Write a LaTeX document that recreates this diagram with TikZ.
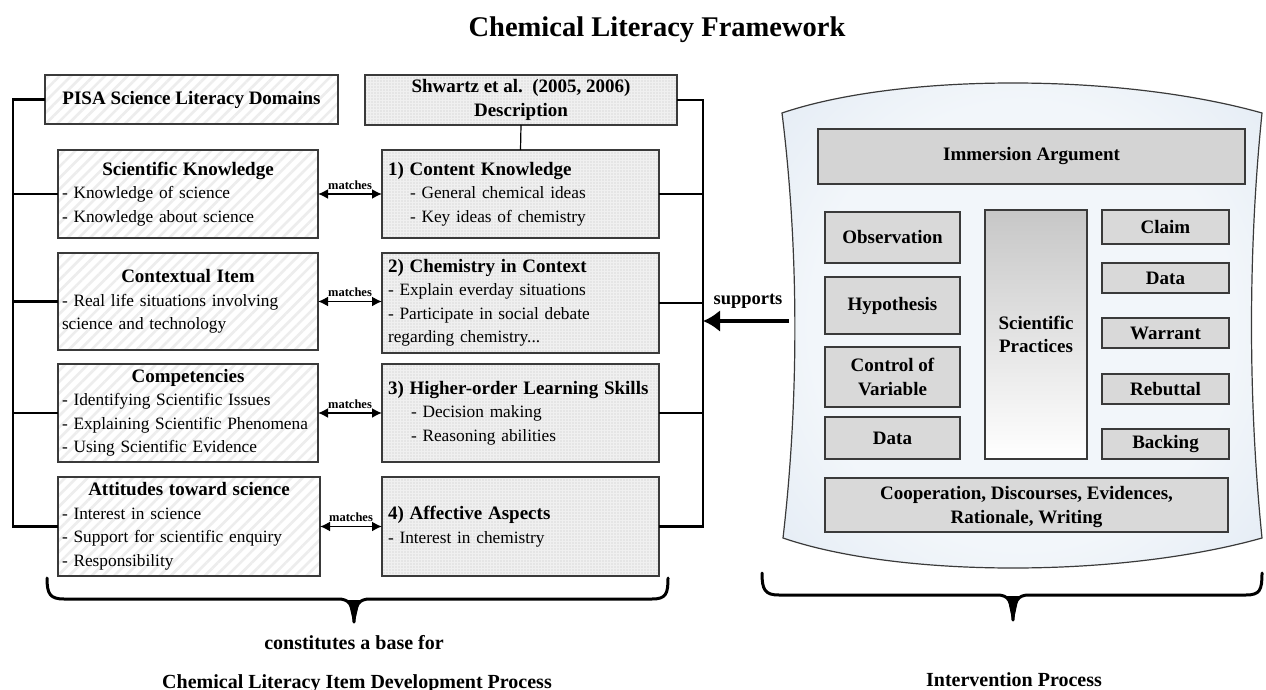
\documentclass[tikz,border=0pt]{standalone}
\usepackage{fontspec}
\setmainfont{Liberation Serif}
\usetikzlibrary{arrows.meta,patterns.meta}

\definecolor{boxline}{RGB}{58,58,58}
\definecolor{panelin}{RGB}{242,246,250}
\definecolor{panelmid}{RGB}{220,230,242}
\definecolor{panelout}{RGB}{182,200,225}
\pgfdeclareradialshading{panelglow}{\pgfpoint{0bp}{0bp}}{%
  color(0bp)=(panelin); color(22bp)=(panelin); color(42bp)=(panelmid);
  color(52bp)=(panelout); color(72bp)=(panelout)}

\newcommand\hdrfont{\fontsize{19}{23.5}\selectfont\bfseries}
\newcommand\bodyfont{\fontsize{17.3}{23.5}\selectfont}

\begin{document}
\begin{tikzpicture}[x=1pt,y=-1pt,
  every node/.style={inner sep=0pt, outer sep=0pt},
  pisabox/.style={draw=boxline, line width=1.3pt, preaction={fill=white},
    pattern={Lines[angle=45,distance=8pt,line width=2.6pt]}, pattern color=black!7,
    inner xsep=4pt, font=\bodyfont},
  shwbox/.style={draw=boxline, line width=1.3pt, preaction={fill=black!6},
    pattern={Dots[radius=0.7pt,distance=3pt]}, pattern color=black!24,
    inner xsep=6pt, font=\bodyfont},
  innerbox/.style={draw=boxline, line width=1.2pt, fill=black!15,
    font=\hdrfont, align=center},
  tree/.style={draw=black, line width=2.4pt},
  thinlink/.style={draw=black, line width=1.2pt},
  matcharrow/.style={draw=black, line width=1.8pt,
    {Latex[length=10pt,width=10pt]}-{Latex[length=10pt,width=10pt]}},
  matchlbl/.style={font=\fontsize{12.5}{12.5}\selectfont\bfseries, anchor=base, yshift=5pt},
  suparrow/.style={draw=black, line width=4.5pt, -{Latex[length=17pt,width=22pt]}},
  brace/.style={draw=black, line width=3pt, line cap=round, line join=round},
  caption/.style={font=\fontsize{20}{24}\selectfont\bfseries, anchor=base}
]
\useasboundingbox (0,0) rectangle (1266,690);
\fill[white] (0,0) rectangle (1266,690);

% ---------- title ----------
\node[font=\fontsize{28.5}{32}\selectfont\bfseries, anchor=base] (title) at (657,37)
  {Chemical Literacy Framework};

% ---------- PISA column ----------
\node[pisabox, minimum width=293pt, minimum height=49pt, font=\hdrfont] (pisa) at (191.5,99.5)
  {PISA Science Literacy Domains};
\node[pisabox, text width=252pt, minimum height=88pt] (sci) at (188,194)
  {\centering{\hdrfont Scientific Knowledge}\par\raggedright
   - Knowledge of science\\- Knowledge about science};
\node[pisabox, text width=252pt, minimum height=97pt] (ctx) at (188,301.5)
  {\centering{\hdrfont Contextual Item}\par\raggedright
   - Real life situations involving\\science and technology};
\node[pisabox, text width=252pt, minimum height=98pt] (comp) at (188,413)
  {\centering{\hdrfont Competencies}\par\raggedright
   - Identifying Scientific Issues\\- Explaining Scientific Phenomena\\- Using Scientific Evidence};
\node[pisabox, text width=254pt, minimum height=99pt] (att) at (189,526.5)
  {\centering{\hdrfont Attitudes toward science}\par\raggedright
   - Interest in science\\- Support for scientific enquiry\\- Responsibility};

% ---------- Shwartz et al. column ----------
\node[shwbox, minimum width=312pt, minimum height=50pt, font=\hdrfont, align=center] (shw) at (521,100)
  {Shwartz et al.\ \ (2005, 2006)\\Description};
\node[shwbox, text width=265pt, minimum height=88pt] (ck) at (520.5,194)
  {\raggedright{\hdrfont 1) Content Knowledge}\\
   \hspace*{22pt}- General chemical ideas\\\hspace*{22pt}- Key ideas of chemistry};
\node[shwbox, text width=265pt, minimum height=100pt] (chem) at (520.5,303)
  {\raggedright{\hdrfont 2) Chemistry in Context}\\
   - Explain everday situations\\- Participate in social debate\\regarding chemistry...};
\node[shwbox, text width=265pt, minimum height=98pt] (hos) at (520.5,413)
  {\raggedright{\hdrfont 3) Higher-order Learning Skills}\\
   \hspace*{23pt}- Decision making\\\hspace*{23pt}- Reasoning abilities};
\node[shwbox, text width=265pt, minimum height=99pt] (aff) at (520.5,526.5)
  {\raggedright{\hdrfont 4) Affective Aspects}\\- Interest in chemistry};

% ---------- tree connectors ----------
\coordinate (ls) at (13,99.5);
\coordinate (rs) at (703,100);
\draw[tree] (pisa.west) -- (ls) |- (att.west);
\draw[tree] (sci.west) -- (sci.west -| ls);
\draw[tree] (ctx.west) -- (ctx.west -| ls);
\draw[tree] (comp.west) -- (comp.west -| ls);
\draw[tree] (shw.east) -- (rs) |- (aff.east);
\draw[tree] (ck.east) -- (ck.east -| rs);
\draw[tree] (chem.east) -- (chem.east -| rs);
\draw[tree] (hos.east) -- (hos.east -| rs);
\draw[thinlink] (shw.south) -- (ck.north);

% ---------- "matches" links ----------
\draw[matcharrow] (sci.east) -- (sci.east -| ck.west) node[matchlbl, midway] (m1) {matches};
\draw[matcharrow] (ctx.east) -- (ctx.east -| chem.west) node[matchlbl, midway] (m2) {matches};
\draw[matcharrow] (comp.east) -- (comp.east -| hos.west) node[matchlbl, midway] (m3) {matches};
\draw[matcharrow] (att.east) -- (att.east -| aff.west) node[matchlbl, midway] (m4) {matches};

% ---------- intervention panel ----------
\path[shading=panelglow]
  (782,113) .. controls (900,73) and (1120,73) .. (1262,113)
  .. controls (1248,250) and (1248,400) .. (1262,538)
  .. controls (1120,578) and (900,578) .. (783,538)
  .. controls (799,400) and (799,250) .. (782,113) -- cycle;
\draw[boxline, line width=1.2pt]
  (782,113) .. controls (900,73) and (1120,73) .. (1262,113)
  .. controls (1248,250) and (1248,400) .. (1262,538)
  .. controls (1120,578) and (900,578) .. (783,538)
  .. controls (799,400) and (799,250) .. (782,113) -- cycle;

\node[innerbox, minimum width=427pt, minimum height=55pt, fill=black!17] (imm) at (1031.5,156.5) {Immersion Argument};
\node[innerbox, minimum width=135pt, minimum height=51pt] (obs) at (892.5,237.5) {Observation};
\node[innerbox, minimum width=135pt, minimum height=57pt] (hyp) at (892.5,305.5) {Hypothesis};
\node[innerbox, minimum width=135pt, minimum height=60pt] (cov) at (892.5,377) {Control of\\Variable};
\node[innerbox, minimum width=135pt, minimum height=42pt] (datal) at (892.5,438) {Data};
\node[innerbox, minimum width=102pt, minimum height=249pt, fill=none,
  top color=black!22, bottom color=white] (sp) at (1036,334.5) {Scientific\\Practices};
\node[innerbox, minimum width=127pt, minimum height=34pt] (claim) at (1165.5,227) {Claim};
\node[innerbox, minimum width=127pt, minimum height=30pt] (datar) at (1165.5,278) {Data};
\node[innerbox, minimum width=127pt, minimum height=30pt] (warr) at (1165.5,333) {Warrant};
\node[innerbox, minimum width=127pt, minimum height=30pt] (rebut) at (1165.5,389) {Rebuttal};
\node[innerbox, minimum width=127pt, minimum height=30pt] (back) at (1165.5,444) {Backing};
\node[innerbox, minimum width=403pt, minimum height=54pt, text depth=0pt] (coop) at (1026.5,505)
  {Cooperation, Discourses, Evidences,\\Rationale, Writing};

% ---------- supports arrow ----------
\coordinate (supstart) at (789,321);
\draw[suparrow] (supstart) -- (supstart -| rs);
\node[font=\fontsize{18.5}{20}\selectfont\bfseries, anchor=base] (suplbl) at (748,304) {supports};

% ---------- braces and captions ----------
\draw[brace] (47,578) .. controls (47,594) and (50,599) .. (64,599) -- (338,599)
  .. controls (349,599) and (353,604) .. (354,622)
  .. controls (355,604) and (359,599) .. (370,599) -- (652,599)
  .. controls (666,599) and (668,594) .. (668,578);
\fill (348,600) -- (360,600) -- (355,621) -- (353,621) -- cycle;
\draw[brace] (762,573) .. controls (762,590) and (765,595) .. (779,595) -- (997,595)
  .. controls (1008,595) and (1012,600) .. (1013,620)
  .. controls (1014,600) and (1018,595) .. (1029,595) -- (1246,595)
  .. controls (1260,595) and (1262,590) .. (1262,573);
\fill (1007,596) -- (1019,596) -- (1014,619) -- (1012,619) -- cycle;

\node[caption] (base) at (354,649) {constitutes a base for};
\node[caption] (cldev) at (357,688) {Chemical Literacy Item Development Process};
\node[caption] (interv) at (1014,686) {Intervention Process};
\end{tikzpicture}
\end{document}
